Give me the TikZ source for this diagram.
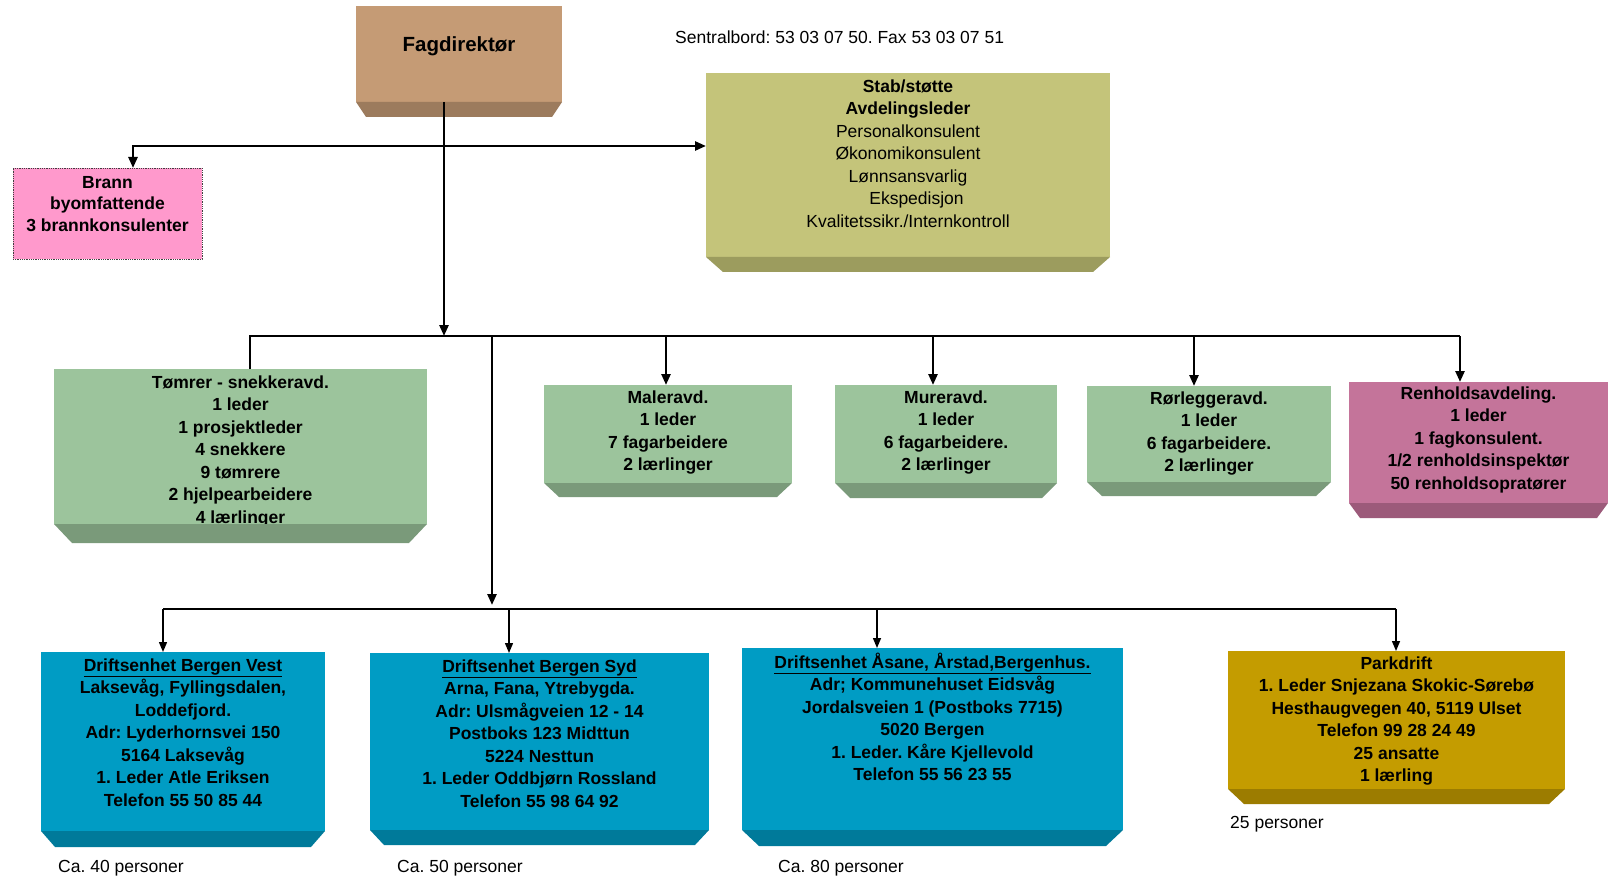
\documentclass[tikz,border=0pt]{standalone}
\usepackage{fontspec}
\setmainfont{Liberation Sans}
\frenchspacing
\usetikzlibrary{arrows.meta,fit,calc}
\definecolor{fagF}{HTML}{C59B75}
\definecolor{fagB}{HTML}{9C7B5D}
\definecolor{stabF}{HTML}{C4C47A}
\definecolor{stabB}{HTML}{9C9C5E}
\definecolor{grnF}{HTML}{9CC49C}
\definecolor{grnB}{HTML}{7A9A7A}
\definecolor{renF}{HTML}{C4749A}
\definecolor{renB}{HTML}{9C5A7A}
\definecolor{bluF}{HTML}{009CC4}
\definecolor{bluB}{HTML}{007A9A}
\definecolor{parkF}{HTML}{C49C00}
\definecolor{parkB}{HTML}{9C7C00}
\definecolor{pinkF}{HTML}{FF99CC}
% #1 name, #2 corner, #3 corner, #4 inset, #5 depth, #6 face, #7 bevel, #8 drop to first baseline, #9 text
\newcommand\threedbox[9]{%
  \node[boxface, fill=#6, fit={#2 #3}] (#1) {};
  \node[txt, yshift=17pt] (#1-t) at ([yshift=-#8pt]#1.north) {\rule{0pt}{17pt}#9};
  \fill[#7] (#1.south west) -- (#1.south east) -- ([xshift=-#4pt,yshift=-#5pt]#1.south east)
     -- ([xshift=#4pt,yshift=-#5pt]#1.south west) -- cycle;}
\begin{document}
\begin{tikzpicture}[x=1pt,y=-1pt,
  boxface/.style={inner sep=0pt, outer sep=0pt, draw=none},
  txt/.style={font=\fontsize{17.5}{22.5}\selectfont\bfseries, align=center, anchor=north, inner sep=0pt},
  plain/.style={font=\fontsize{17.5}{22.5}\selectfont, inner sep=0pt},
  conn/.style={line width=2.5pt},
  arr/.style={line width=2.5pt, -{Triangle[length=11pt,width=9pt]}},
  tconn/.style={line width=1.4pt},
  tarr/.style={line width=1.4pt, -{Triangle[length=10pt,width=8pt]}},
]
\useasboundingbox (0,0) rectangle (1608,877);
\fill[white] (0,0) rectangle (1608,877);

% top level
\node[boxface, fill=fagF, fit={(356,6) (562,102)}] (fag) {};
\node[txt, anchor=base, font=\fontsize{20.5}{24}\selectfont\bfseries] (fag-t) at ([yshift=-46pt]fag.north) {Fagdirektør};
\fill[fagB] (fag.south west) -- (fag.south east) -- ([xshift=-10pt,yshift=-15pt]fag.south east) -- ([xshift=10pt,yshift=-15pt]fag.south west) -- cycle;
\node[plain, anchor=base west] (sentral) at (675,44) {Sentralbord: 53 03 07 50. Fax 53 03 07 51};
\threedbox{stab}{(706,73)}{(1110,257)}{17}{15}{stabF}{stabB}{19}{Stab/støtte\\Avdelingsleder\\\textmd{Personalkonsulent}\\\textmd{Økonomikonsulent}\\\textmd{Lønnsansvarlig}\\\hspace*{17pt}\textmd{Ekspedisjon}\\\textmd{Kvalitetssikr./Internkontroll}}
\node[boxface, fill=pinkF, draw=black!75, densely dotted, line width=0.8pt, fit={(13,168) (202,259)}] (brann) {};
\node[txt, font=\fontsize{17.5}{21.5}\selectfont\bfseries, yshift=17pt] (brann-t) at ([yshift=-20pt]brann.north) {\rule{0pt}{17pt}Brann\\byomfattende\\3 brannkonsulenter};

% middle level
\threedbox{tom}{(54,369)}{(427,524)}{18}{19}{grnF}{grnB}{19}{Tømrer - snekkeravd.\\1 leder\\1 prosjektleder\\4 snekkere\\9 tømrere\\2 hjelpearbeidere\\4 lærlinger}
\threedbox{mal}{(544,385)}{(792,483)}{15}{14}{grnF}{grnB}{18}{Maleravd.\\1 leder\\7 fagarbeidere\\2 lærlinger}
\threedbox{mur}{(835,385)}{(1057,483)}{15}{15}{grnF}{grnB}{18}{Mureravd.\\1 leder\\6 fagarbeidere.\\2 lærlinger}
\threedbox{ror}{(1087,386)}{(1331,482)}{15}{14}{grnF}{grnB}{18}{Rørleggeravd.\\1 leder\\6 fagarbeidere.\\2 lærlinger}
\threedbox{ren}{(1349,382)}{(1608,503)}{11}{15}{renF}{renB}{17}{Renholdsavdeling.\\1 leder\\1 fagkonsulent.\\1/2 renholdsinspektør\\50 renholdsopratører}

% bottom level
\threedbox{vest}{(41,652)}{(325,831)}{14}{16}{bluF}{bluB}{19}{\underline{Driftsenhet Bergen Vest}\\Laksevåg, Fyllingsdalen,\\Loddefjord.\\Adr: Lyderhornsvei 150\\5164 Laksevåg\\1. Leder Atle Eriksen\\Telefon 55 50 85 44}
\threedbox{syd}{(370,653)}{(709,830)}{14}{15}{bluF}{bluB}{19}{\underline{Driftsenhet Bergen Syd}\\Arna, Fana, Ytrebygda.\\Adr: Ulsmågveien 12 - 14\\Postboks 123 Midttun\\5224 Nesttun\\1. Leder Oddbjørn Rossland\\Telefon 55 98 64 92}
\threedbox{asa}{(742,648)}{(1123,830)}{17}{16}{bluF}{bluB}{20}{\underline{Driftsenhet Åsane, Årstad,Bergenhus.}\\Adr; Kommunehuset Eidsvåg\\Jordalsveien 1 (Postboks 7715)\\5020 Bergen\\1. Leder. Kåre Kjellevold\\Telefon 55 56 23 55}
\threedbox{park}{(1228,651)}{(1565,789)}{16}{15}{parkF}{parkB}{18}{Parkdrift\\1. Leder Snjezana Skokic-Sørebø\\Hesthaugvegen 40, 5119 Ulset\\Telefon 99 28 24 49\\25 ansatte\\1 lærling}

\node[plain, anchor=base west] (n40) at (58,872) {Ca. 40 personer};
\node[plain, anchor=base west] (n50) at (397,872) {Ca. 50 personer};
\node[plain, anchor=base west] (n80) at (778,872) {Ca. 80 personer};
\node[plain, anchor=base west] (n25) at (1230,828) {25 personer};

% connector coordinates derived from nodes
\coordinate (j1) at (444,146);
\coordinate (bus) at (444,336);
\coordinate (low) at (492,609);
\path ([xshift=25.5pt]brann.north) coordinate (brannin);
\path ([xshift=9.5pt]tom.north) coordinate (tomin);
\path ([xshift=-2pt]mal.north) coordinate (malin);
\path ([xshift=-13pt]mur.north) coordinate (murin);
\path ([xshift=-15pt]ror.north) coordinate (rorin);
\path ([xshift=-18.5pt]ren.north) coordinate (renin);
\path ([xshift=-20pt]vest.north) coordinate (vestin);
\path ([xshift=-30.5pt]syd.north) coordinate (sydin);
\path ([xshift=-55.5pt]asa.north) coordinate (asain);
\path ([xshift=-0.5pt]park.north) coordinate (parkin);

% upper connectors
\draw[arr] (fag.south -| j1) -- (bus);
\draw[arr] (j1) -- (stab.west |- j1);
\draw[arr] (j1) -| (brannin);
\draw[conn] (tomin) |- (renin |- bus);
\draw[arr] (malin |- bus) -- (malin);
\draw[arr] (murin |- bus) -- (murin);
\draw[arr] (rorin |- bus) -- (rorin);
\draw[arr] (renin |- bus) -- (renin);
\draw[arr] (low |- bus) -- ([yshift=4pt]low);

% lower connectors
\draw[tconn] (vestin |- low) -- (parkin |- low);
\draw[tarr] (vestin |- low) -- (vestin);
\draw[tarr] (sydin |- low) -- (sydin);
\draw[tarr] (asain |- low) -- (asain);
\draw[tarr] (parkin |- low) -- (parkin);
\end{tikzpicture}
\end{document}
